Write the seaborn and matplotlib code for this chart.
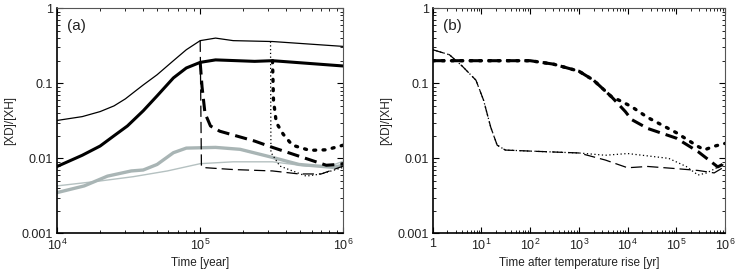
import numpy as np
import seaborn as sns
import matplotlib.pyplot as plt
from matplotlib.ticker import LogLocator, NullFormatter

# -------------------------------
# Panel (a): time [year]
# -------------------------------
a_thin_x = [1e4, 1.5e4, 2e4, 2.5e4, 3e4, 3.5e4, 4e4, 5e4, 6.5e4, 8e4, 1e5, 1.28e5, 1.7e5, 3.2e5, 1e6]
a_thin_y = [0.032, 0.036, 0.042, 0.05, 0.062, 0.078, 0.095, 0.13, 0.2, 0.28, 0.37, 0.40, 0.37, 0.36, 0.31]

a_thick_x = [1e4, 1.5e4, 2e4, 2.5e4, 3.1e4, 4e4, 5e4, 6.5e4, 8e4, 1e5, 1.28e5, 2.4e5, 3.2e5, 1e6]
a_thick_y = [0.0078, 0.011, 0.0146, 0.02, 0.027, 0.043, 0.068, 0.118, 0.16, 0.19, 0.205, 0.196, 0.20, 0.17]

a_dash_x = [1e5, 1.03e5, 1.08e5, 1.18e5, 1.37e5, 2.4e5, 3.2e5, 4.9e5, 7.6e5, 1e6]
a_dash_y = [0.19, 0.09, 0.04, 0.027, 0.023, 0.017, 0.014, 0.0107, 0.0081, 0.0084]

a_dot_x = [3.2e5, 3.25e5, 3.4e5, 3.8e5, 4.4e5, 5.8e5, 7.6e5, 1e6]
a_dot_y = [0.20, 0.06, 0.03, 0.021, 0.015, 0.0128, 0.013, 0.015]

a_tdash_x = [1e5, 1.02e5, 1.1e5, 1.7e5, 3.2e5, 4.9e5, 7e5, 1e6]
a_tdash_y = [0.37, 0.0078, 0.0075, 0.0071, 0.0068, 0.0062, 0.0062, 0.0079]

a_tdot_x = [3.1e5, 3.12e5, 3.6e5, 5.5e5, 7e5, 1e6]
a_tdot_y = [0.36, 0.012, 0.0079, 0.0058, 0.0062, 0.0076]

a_gthick_x = [1e4, 1.55e4, 2.25e4, 3.3e4, 4e4, 5e4, 6.5e4, 8e4, 1.28e5, 1.9e5, 3.2e5, 4.9e5, 8.4e5, 1e6]
a_gthick_y = [0.0035, 0.0043, 0.0058, 0.0068, 0.007, 0.0083, 0.0119, 0.0137, 0.014, 0.0132, 0.0103, 0.0083, 0.0076, 0.0081]

a_gthin_x = [1e4, 2e4, 3.4e4, 5.9e4, 1e5, 1.7e5, 3.2e5, 5.5e5, 8.4e5, 1e6]
a_gthin_y = [0.0043, 0.0050, 0.0057, 0.0068, 0.0085, 0.009, 0.009, 0.0079, 0.0081, 0.0092]

# -------------------------------
# Panel (b): time after temperature rise [yr]
# -------------------------------
b_dash_x = [1, 100, 300, 1000, 2e3, 4.7e3, 9e3, 1.2e4, 2.6e4, 1e5, 2.8e5, 7.1e5, 1e6]
b_dash_y = [0.20, 0.20, 0.18, 0.145, 0.11, 0.066, 0.042, 0.033, 0.025, 0.0186, 0.0123, 0.0077, 0.0086]

b_dot_x = [1, 100, 300, 1000, 2e3, 4.7e3, 6.5e3, 1.2e4, 2.6e4, 1e5, 2.8e5, 3.8e5, 6e5, 1e6]
b_dot_y = [0.20, 0.20, 0.18, 0.145, 0.11, 0.066, 0.06, 0.049, 0.035, 0.022, 0.0144, 0.013, 0.0145, 0.0158]

b_tdash_x = [1, 2.2, 4, 7.7, 11, 15.5, 21, 31, 100, 1000, 3.5e3, 1e4, 2.6e4, 1e5, 2.8e5, 6e5, 1e6]
b_tdash_y = [0.28, 0.24, 0.17, 0.11, 0.06, 0.026, 0.015, 0.0129, 0.0125, 0.0118, 0.0095, 0.0075, 0.0078, 0.0073, 0.0069, 0.0064, 0.0078]

b_tdot_x = [1, 2.2, 4, 7.7, 11, 15.5, 21, 31, 100, 1000, 3.5e3, 1e4, 7e4, 1.6e5, 2.8e5, 4.2e5, 1e6]
b_tdot_y = [0.28, 0.24, 0.17, 0.11, 0.06, 0.026, 0.015, 0.0129, 0.0125, 0.0118, 0.011, 0.0116, 0.010, 0.0078, 0.006, 0.0064, 0.0085]

gray = "#a9b5b5"
gray_light = "#b5c1c1"

sns.set_style("ticks")
plt.rcParams["font.family"] = ["Liberation Sans", "DejaVu Sans"]
plt.rcParams["mathtext.fontset"] = "custom"
plt.rcParams["mathtext.rm"] = "Liberation Sans"
plt.rcParams["mathtext.it"] = "Liberation Sans"

fig = plt.figure(figsize=(7.36, 2.74), dpi=100)
ax1 = fig.add_axes([0.0775, 0.148, 0.389, 0.822])
ax2 = fig.add_axes([0.588, 0.148, 0.397, 0.822])


def line(ax, x, y, color="black", lw=1.0, ls="-", **kw):
    sns.lineplot(x=x, y=y, ax=ax, color=color, linewidth=lw, linestyle=ls,
                 sort=False, estimator=None, **kw)


# panel (a)
line(ax1, a_gthin_x, a_gthin_y, color=gray_light, lw=1.0)
line(ax1, a_gthick_x, a_gthick_y, color=gray, lw=2.4)
line(ax1, a_thin_x, a_thin_y, lw=0.9)
line(ax1, a_thick_x, a_thick_y, lw=2.2)
line(ax1, a_tdash_x, a_tdash_y, lw=0.9, ls=(0, (9, 4)))
line(ax1, a_tdot_x, a_tdot_y, lw=0.9, ls=(0, (1, 2)))
line(ax1, a_dash_x, a_dash_y, lw=2.2, ls=(0, (4, 2)))
line(ax1, a_dot_x, a_dot_y, lw=2.4, ls=(0, (0.6, 2.2)), dash_capstyle="round")

# panel (b)
line(ax2, b_tdash_x, b_tdash_y, lw=0.9, ls=(0, (9, 4)))
line(ax2, b_tdot_x, b_tdot_y, lw=0.9, ls=(0, (1, 2)))
line(ax2, b_dash_x, b_dash_y, lw=2.2, ls=(0, (4, 2)))
line(ax2, b_dot_x, b_dot_y, lw=2.4, ls=(0, (0.6, 2.2)), dash_capstyle="round")

txt = "#222222"
for ax in (ax1, ax2):
    ax.set_xscale("log")
    ax.set_yscale("log")
    ax.set_ylim(1e-3, 1)
    ax.set_yticks([1e-3, 1e-2, 1e-1, 1])
    ax.set_yticklabels(["0.001", "0.01", "0.1", "1"])
    ax.yaxis.set_minor_locator(LogLocator(base=10, subs=np.arange(2, 10)))
    ax.yaxis.set_minor_formatter(NullFormatter())
    ax.xaxis.set_minor_locator(LogLocator(base=10, subs=np.arange(2, 10), numticks=20))
    ax.xaxis.set_minor_formatter(NullFormatter())
    ax.tick_params(which="both", direction="in", top=True, right=True,
                   labelsize=9, pad=3, colors="black", labelcolor=txt)
    ax.tick_params(which="major", length=4, width=0.8)
    ax.tick_params(which="minor", length=2, width=0.6)
    ax.set_ylabel("[XD]/[XH]", fontsize=8.5, labelpad=4, color=txt)
    for s in ("left", "bottom"):
        ax.spines[s].set_linewidth(1.2)
        ax.spines[s].set_color("black")
    for s in ("top", "right"):
        ax.spines[s].set_linewidth(0.8)
        ax.spines[s].set_color("#555555")

ax1.set_xlim(1e4, 1e6)
ax1.set_xticks([1e4, 1e5, 1e6])
ax1.set_xticklabels(["$10^4$", "$10^5$", "$10^6$"])
ax1.set_xlabel("Time [year]", fontsize=8.5, labelpad=3, color=txt)
ax1.text(0.035, 0.95, "(a)", transform=ax1.transAxes, fontsize=11, va="top", color=txt)

ax2.set_xlim(1, 1e6)
ax2.set_xticks([1, 1e1, 1e2, 1e3, 1e4, 1e5, 1e6])
ax2.set_xticklabels(["1", "$10^1$", "$10^2$", "$10^3$", "$10^4$", "$10^5$", "$10^6$"])
ax2.set_xlabel("Time after temperature rise [yr]", fontsize=8.5, labelpad=3, color=txt)
ax2.text(0.035, 0.95, "(b)", transform=ax2.transAxes, fontsize=11, va="top", color=txt)

fig.savefig("out.png", dpi=100)
